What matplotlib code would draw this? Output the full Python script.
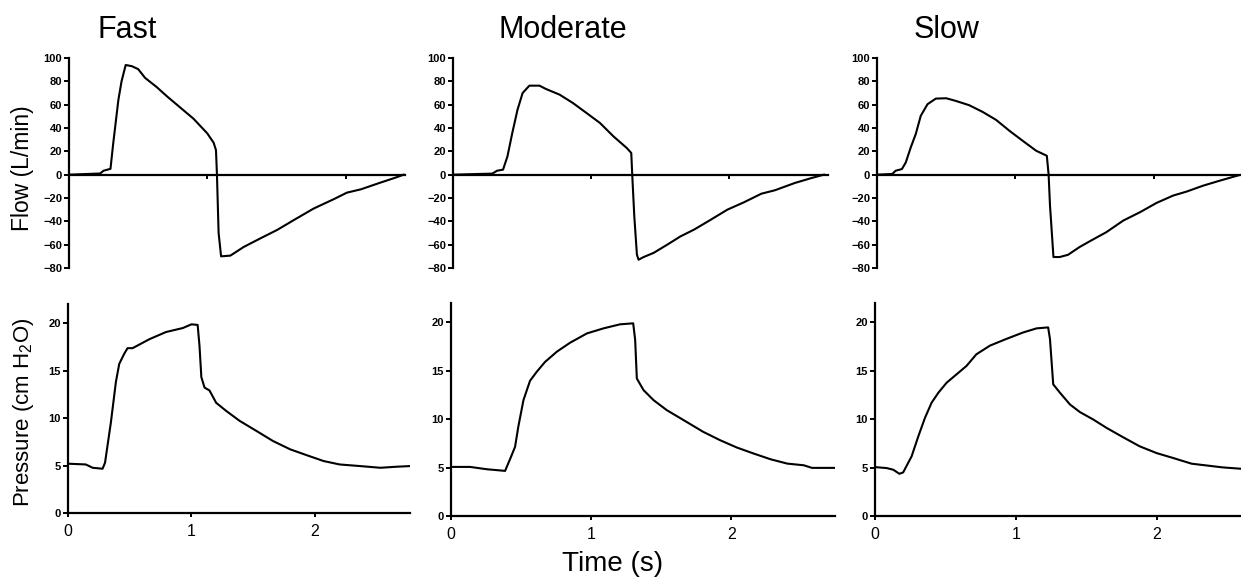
import matplotlib.pyplot as plt

plt.rcParams['font.family'] = ['Liberation Sans', 'DejaVu Sans']
plt.rcParams['mathtext.fontset'] = 'custom'
plt.rcParams['mathtext.rm'] = 'Liberation Sans'

# ---- inspiratory / expiratory flow (L/min) ----
fast_flow_t = [0, 0.225, 0.25, 0.30, 0.32, 0.357, 0.38, 0.41, 0.454, 0.50, 0.55, 0.635,
               0.71, 0.80, 0.90, 1.0, 1.046, 1.063, 1.07, 1.082, 1.10, 1.167, 1.263,
               1.384, 1.505, 1.626, 1.77, 1.915, 2.01, 2.11, 2.25, 2.36, 2.42]
fast_flow = [0, 1, 3.4, 5, 27, 64, 80, 94, 93, 90.5, 83, 75,
             67, 58, 48, 35.4, 27.4, 21, 0, -50, -70, -69.4, -62,
             -54.6, -47.4, -38.9, -29, -21, -15.4, -12.6, -6.9, -2.6, 0]

mod_flow_t = [0, 0.285, 0.32, 0.363, 0.395, 0.43, 0.468, 0.505, 0.554, 0.627, 0.675,
              0.773, 0.87, 0.968, 1.066, 1.163, 1.26, 1.293, 1.30, 1.315, 1.334, 1.346,
              1.383, 1.456, 1.554, 1.65, 1.75, 1.87, 1.99, 2.11, 2.237, 2.334, 2.48,
              2.6, 2.69]
mod_flow = [0, 0.9, 3.4, 4.3, 15.7, 35.7, 55.7, 70, 76.3, 76.3, 73.4,
            68.6, 61.4, 52.9, 44.3, 32.9, 22.9, 18.6, 0, -35.7, -68.6, -72.9,
            -70.6, -67, -60, -52.9, -47, -38.6, -30, -23.7, -16.3, -13.4, -7.1,
            -2.9, 0]

slow_flow_t = [0, 0.11, 0.135, 0.18, 0.208, 0.244, 0.28, 0.316, 0.365, 0.425, 0.5,
               0.57, 0.667, 0.763, 0.86, 0.957, 1.053, 1.15, 1.227, 1.24, 1.25, 1.275,
               1.32, 1.38, 1.464, 1.56, 1.657, 1.78, 1.9, 2.02, 2.14, 2.237, 2.357,
               2.478, 2.62]
slow_flow = [0, 0.6, 3.4, 4.8, 10.5, 23.4, 34.8, 50.4, 60.4, 65.2, 65.5,
             63.2, 59.5, 53.8, 47, 37.6, 29, 20.5, 16.2, 0, -26.5, -70.6,
             -70.6, -68.7, -62, -55.6, -49.3, -39.3, -32.2, -24.2, -17.9, -14.5, -9.4,
             -5.1, -0.3]

# ---- airway pressure (cm H2O) ----
fast_pres_t = [0, 0.144, 0.2, 0.28, 0.30, 0.347, 0.388, 0.415, 0.455, 0.482, 0.523,
               0.66, 0.794, 0.93, 1.0, 1.05, 1.065, 1.08, 1.106, 1.146, 1.2, 1.28,
               1.39, 1.526, 1.66, 1.80, 1.93, 2.07, 2.2, 2.366, 2.53, 2.66, 2.77]
fast_pres = [5.19, 5.11, 4.76, 4.66, 5.3, 9.5, 13.8, 15.7, 16.75, 17.35, 17.35,
             18.3, 19.05, 19.47, 19.86, 19.8, 17.6, 14.3, 13.2, 12.9, 11.6, 10.76,
             9.7, 8.64, 7.58, 6.7, 6.1, 5.47, 5.11, 4.94, 4.76, 4.87, 4.94]

mod_pres_t = [0, 0.136, 0.255, 0.386, 0.433, 0.457, 0.48, 0.517, 0.564, 0.612, 0.67,
              0.755, 0.85, 0.97, 1.088, 1.207, 1.30, 1.314, 1.326, 1.374, 1.445, 1.54,
              1.66, 1.80, 1.92, 2.04, 2.16, 2.28, 2.4, 2.517, 2.576, 2.74]
mod_pres = [5.07, 5.07, 4.83, 4.66, 6.28, 7.14, 9.2, 11.97, 13.97, 14.9, 15.9,
            16.97, 17.9, 18.86, 19.38, 19.8, 19.9, 18.2, 14.2, 13.0, 11.97, 10.93,
            9.9, 8.69, 7.83, 7.07, 6.45, 5.86, 5.41, 5.24, 4.97, 4.97]

slow_pres_t = [0, 0.083, 0.13, 0.173, 0.2, 0.26, 0.308, 0.355, 0.402, 0.45, 0.509,
               0.58, 0.65, 0.72, 0.817, 0.935, 1.053, 1.148, 1.23, 1.243, 1.266, 1.314,
               1.385, 1.456, 1.55, 1.645, 1.763, 1.88, 2.0, 2.118, 2.25, 2.355, 2.47,
               2.6]
slow_pres = [5.05, 4.95, 4.78, 4.36, 4.5, 6.16, 8.24, 10.14, 11.7, 12.73, 13.77,
             14.64, 15.5, 16.7, 17.6, 18.3, 18.96, 19.38, 19.48, 18.27, 13.6, 12.73,
             11.52, 10.73, 9.97, 9.1, 8.13, 7.2, 6.5, 5.99, 5.4, 5.22, 5.02,
             4.88]

titles = ['Fast', 'Moderate', 'Slow']
flow_ticks = [-80, -60, -40, -20, 0, 20, 40, 60, 80, 100]
pres_ticks = [0, 5, 10, 15, 20]

W, H = 1241, 578
fig = plt.figure(figsize=(W / 100, H / 100), dpi=100)


def add_axes(x0, x1, y0, y1):
    # pixel box (top-left origin) -> figure fraction
    return fig.add_axes([x0 / W, 1 - y1 / H, (x1 - x0) / W, (y1 - y0) / H])


# panel boxes in pixels and time extents of each trace window
flow_boxes = [(69, 405, 58, 268), (453, 828, 58, 268), (877, 1241, 58, 268)]
flow_xmax = [2.43, 2.72, 2.63]
pres_boxes = [(68, 410, 304, 513), (451, 835, 303, 516), (875, 1241, 303, 516)]
pres_xmax = [2.77, 2.74, 2.6]

flows = [(fast_flow_t, fast_flow), (mod_flow_t, mod_flow), (slow_flow_t, slow_flow)]
pressures = [(fast_pres_t, fast_pres), (mod_pres_t, mod_pres), (slow_pres_t, slow_pres)]

lw = 1.5
for i in range(3):
    # --- flow panel ---
    ax = add_axes(*flow_boxes[i])
    t, f = flows[i]
    ax.plot(t, f, color='black', linewidth=lw, solid_joinstyle='round')
    ax.set_xlim(0, flow_xmax[i])
    ax.set_ylim(-80, 100)
    ax.spines['top'].set_visible(False)
    ax.spines['right'].set_visible(False)
    ax.spines['bottom'].set_position(('data', 0))
    ax.spines['left'].set_linewidth(1.6)
    ax.spines['bottom'].set_linewidth(1.6)
    ax.set_yticks(flow_ticks)
    ax.set_xticks([1, 2])
    ax.set_xticklabels([])
    ax.tick_params(axis='x', direction='out', length=3, width=1.4)
    ax.tick_params(axis='y', direction='out', length=3.5, width=1.4, pad=1.5,
                   labelsize=8)
    for lab in ax.get_yticklabels():
        lab.set_fontweight('bold')
    ax.patch.set_visible(False)

    # --- pressure panel ---
    ax = add_axes(*pres_boxes[i])
    t, p = pressures[i]
    ax.plot(t, p, color='black', linewidth=lw, solid_joinstyle='round')
    ax.set_xlim(0, pres_xmax[i])
    ax.set_ylim(0, 22)
    ax.spines['top'].set_visible(False)
    ax.spines['right'].set_visible(False)
    ax.spines['left'].set_linewidth(1.6)
    ax.spines['bottom'].set_linewidth(1.6)
    ax.set_yticks(pres_ticks)
    ax.set_xticks([0, 1, 2])
    ax.tick_params(axis='x', direction='out', length=3, width=1.4, pad=5,
                   labelsize=11.5)
    ax.tick_params(axis='y', direction='out', length=3.5, width=1.4, pad=1.5,
                   labelsize=8)
    for lab in ax.get_yticklabels():
        lab.set_fontweight('bold')
    ax.patch.set_visible(False)

# column titles
title_x = [127, 563, 947]
for x, name in zip(title_x, titles):
    fig.text(x / W, 1 - 38 / H, name, ha='center', va='baseline', fontsize=22)

fig.text(23 / W, 1 - 168 / H, 'Flow (L/min)', rotation=90, ha='center',
         va='center', fontsize=16.5)
fig.text(24 / W, 1 - 412 / H, 'Pressure (cm H$_2$O)', rotation=90, ha='center',
         va='center', fontsize=16)
fig.text(613 / W, 1 - 571 / H, 'Time (s)', ha='center', va='baseline', fontsize=20)

fig.savefig('out.png', dpi=100)
